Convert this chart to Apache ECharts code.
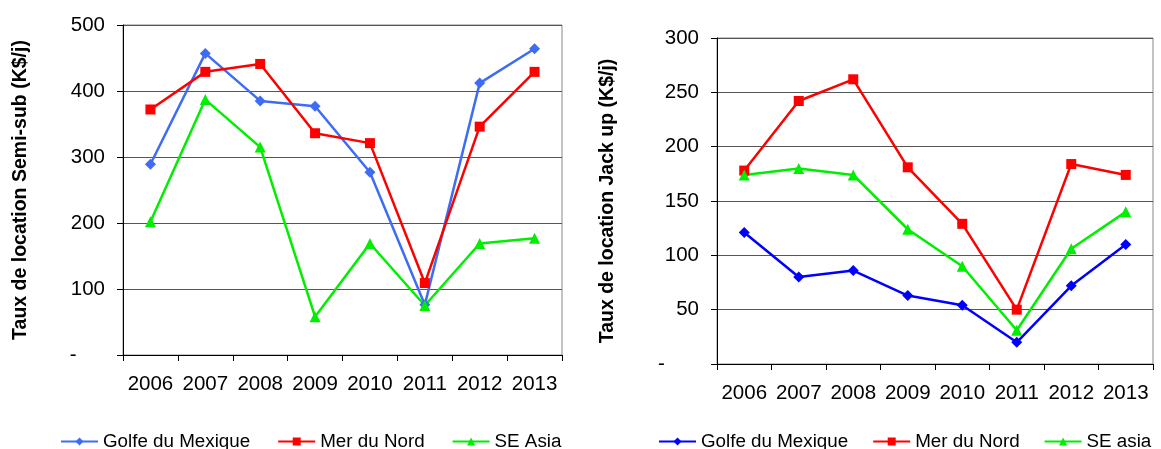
<!DOCTYPE html>
<html>
<head>
<meta charset="utf-8">
<script src="https://cdn.jsdelivr.net/npm/echarts@6/dist/echarts.min.js"></script>
<style>
html,body{margin:0;padding:0;background:#fff;}
#chart{width:1161px;height:449px;}
</style>
</head>
<body>
<div id="chart"></div>
<script>
const years = ['2006','2007','2008','2009','2010','2011','2012','2013'];

// Left chart: Semi-sub (K$/j)
const semiGolfe = [289, 457, 385, 377, 277, 76, 412, 464];
const semiNord  = [372, 429, 441, 336, 321, 109, 346, 429];
const semiAsia  = [202, 387, 315, 58, 169, 75, 169, 177];

// Right chart: Jack up (K$/j)
const jackGolfe = [121, 80, 86, 63, 54, 20, 72, 110];
const jackNord  = [178, 242, 262, 181, 129, 50, 184, 174];
const jackAsia  = [174, 180, 174, 124, 90, 31, 106, 140];

const leftNames = ['Golfe du Mexique', 'Mer du Nord', 'SE Asia'];
const rightNames = ['Golfe du Mexique ', 'Mer du Nord ', 'SE asia'];

const FONT = 'Liberation Sans, Arial, sans-serif';

function xAxis(gi){
  return {
    type:'category', gridIndex:gi, data:years, boundaryGap:true,
    axisLine:{show:true, lineStyle:{color:'#000', width:1}},
    axisTick:{show:true, alignWithLabel:false, length:6, inside:false, lineStyle:{color:'#000'}},
    axisLabel:{color:'#000', fontSize:20.5, fontFamily:FONT, margin:19, interval:0}
  };
}
function yAxis(gi, max, interval, name, gap, dash){
  return {
    type:'value', gridIndex:gi, min:0, max:max, interval:interval,
    name:name, nameLocation:'middle', nameRotate:90, nameGap:gap,
    nameTextStyle:{color:'#000', fontSize:19.5, fontWeight:'bold', fontFamily:FONT},
    axisLine:{show:true, lineStyle:{color:'#000', width:1}},
    axisTick:{show:true, length:6, lineStyle:{color:'#000'}},
    axisLabel:{color:'#000', fontSize:20.5, fontFamily:FONT, margin:18,
      formatter:function(v){return v===0 ? dash : String(v);}},
    splitLine:{show:true, lineStyle:{color:'#555', width:1}}
  };
}
function line(name, data, color, symbol, size, gi){
  return {
    type:'line', name:name, data:data, xAxisIndex:gi, yAxisIndex:gi,
    symbol:symbol, symbolSize:size, showSymbol:true,
    lineStyle:{color:color, width:2.5},
    itemStyle:{color:color},
    emphasis:{disabled:true},
    animation:false
  };
}

const option = {
  backgroundColor:'#fff',
  animation:false,
  grid:[
    {left:123, top:25, right:599, bottom:94, show:true, borderColor:'#888', borderWidth:1, backgroundColor:'transparent'},
    {left:717, top:38, right:8, bottom:85, show:true, borderColor:'#888', borderWidth:1, backgroundColor:'transparent'}
  ],
  legend:[
    {data:leftNames, left:60, top:432, padding:0, itemWidth:37, itemHeight:10, itemGap:27,
     textStyle:{color:'#000', fontSize:18.8, fontFamily:FONT}},
    {data:rightNames, left:658, top:432, padding:0, itemWidth:37, itemHeight:10, itemGap:24,
     textStyle:{color:'#000', fontSize:18.8, fontFamily:FONT},
     formatter:function(n){return n.trim();}}
  ],
  xAxis:[xAxis(0), xAxis(1)],
  yAxis:[
    yAxis(0, 500, 100, 'Taux de location Semi-sub (K$/j)', 92, '-     '),
    yAxis(1, 300, 50, 'Taux de location Jack up (K$/j)', 99, '-      ')
  ],
  series:[
    line(leftNames[0], semiGolfe, '#3D6CF5', 'diamond', 11, 0),
    line(leftNames[1], semiNord, '#FF0000', 'rect', 10, 0),
    line(leftNames[2], semiAsia, '#00EE00', 'triangle', 11, 0),
    line(rightNames[0], jackGolfe, '#0000FF', 'diamond', 11, 1),
    line(rightNames[1], jackNord, '#FF0000', 'rect', 10, 1),
    line(rightNames[2], jackAsia, '#00EE00', 'triangle', 11, 1)
  ]
};

const chart = echarts.init(document.getElementById('chart'), null, {renderer:'canvas'});
chart.setOption(option);
</script>
</body>
</html>
